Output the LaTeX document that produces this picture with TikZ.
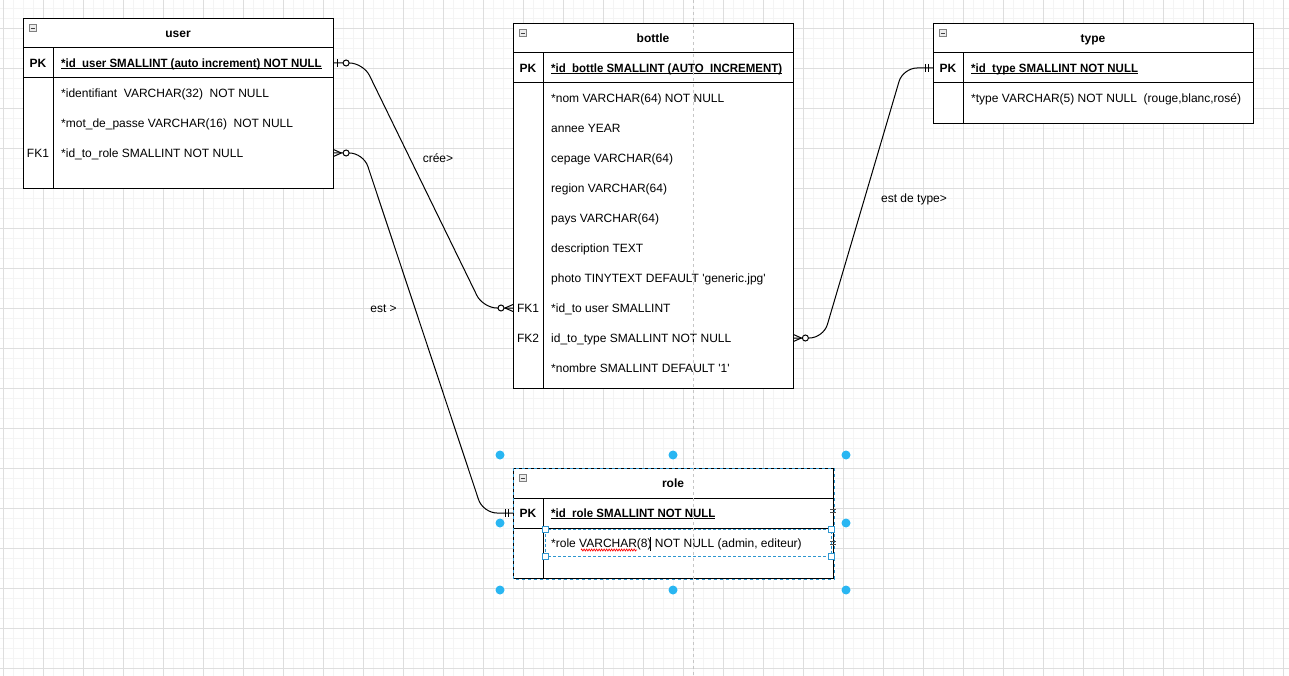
\documentclass[tikz,border=0pt]{standalone}
\usepackage{fontspec}
\setmainfont{Liberation Sans}[Ligatures=TeXOff]
\usetikzlibrary{calc,decorations.pathmorphing}
\definecolor{dotblue}{HTML}{29B6F2}
\definecolor{selline}{HTML}{2E96CF}
\newcommand\erf{\fontsize{12}{14}\selectfont}
\newsavebox\pkbox
\newcommand\undl[1]{\sbox\pkbox{\scalebox{0.955}[1]{#1}}\rlap{\usebox\pkbox}\rule[-2pt]{\wd\pkbox}{1pt}}
\tikzset{
  tbl/.style={draw, line width=1pt, fill=white, anchor=north west, inner sep=0pt},
  rowb/.style={anchor=west, minimum height=30, inner sep=0pt},
  fld/.style={anchor=west, inner sep=0pt, text height=8.6pt, text depth=0pt},
  pkcol/.style={inner sep=0pt, text height=8.6pt, text depth=0pt, font=\erf\bfseries},
  ttl/.style={inner sep=0pt, text height=8.6pt, text depth=0pt, font=\erf\bfseries},
  colicon/.style={draw=gray, fill=gray!15, line width=0.6pt, minimum size=7, inner sep=0pt,
    path picture={\draw[black!75, line width=0.8pt] ([xshift=1.5]path picture bounding box.west) -- ([xshift=-1.5]path picture bounding box.east);}},
  rel/.style={line width=1pt, rounded corners=14},
  lbl/.style={inner sep=0pt, text height=8.6pt, text depth=0pt},
  gridmin/.style={gray!9, line width=0.8pt},
  gridmaj/.style={gray!26, line width=0.8pt}
}
\begin{document}
\begin{tikzpicture}[x=1pt, y=-1pt, font=\erf]
\useasboundingbox (0,0) rectangle (1289,676);
\fill[white] (0,0) rectangle (1289,676);
\foreach \x in {3,13,...,1283} \draw[gridmin] (\x,0) -- (\x,676);
\foreach \y in {8,18,...,668} \draw[gridmin] (0,\y) -- (1289,\y);
\foreach \x in {3,43,...,1283} \draw[gridmaj] (\x,0) -- (\x,676);
\foreach \y in {28,68,...,668} \draw[gridmaj] (0,\y) -- (1289,\y);

\begin{scope}[shift={(23,18)}]
\node[tbl, minimum width=310, minimum height=170] (user) at (0,0) {};
\draw[line width=1pt] (0,30) -- (310,30) (0,60) -- (310,60) (30,30) -- (30,170);
\node[colicon] (user-ic) at (9.5,10) {};
\node[ttl] (user-t) at (155,15) {user};
\node[rowb, minimum width=310] (user-pk) at (0,45) {};
\node[rowb, minimum width=310] (user-fk1) at (0,135) {};
\node[pkcol] (user-k0) at (15,45) {PK};
\node[pkcol, font=\erf] (user-k3) at (15,135) {FK1};
\node[fld, font=\erf\bfseries] (user-f0) at (38,45) {\undl{*id\_user SMALLINT (auto increment) NOT NULL}};
\node[fld] (user-f1) at (38,75) {*identifiant~~VARCHAR(32)~~NOT NULL};
\node[fld] (user-f2) at (38,105) {*mot\_de\_passe VARCHAR(16)~~NOT NULL};
\node[fld] (user-f3) at (38,135) {*id\_to\_role SMALLINT NOT NULL};
\end{scope}

\begin{scope}[shift={(513,23)}]
\node[tbl, minimum width=280, minimum height=365] (bottle) at (0,0) {};
\draw[line width=1pt] (0,30) -- (280,30) (0,60) -- (280,60) (30,30) -- (30,365);
\node[colicon] (bottle-ic) at (9.5,10) {};
\node[ttl] (bottle-t) at (140,15) {bottle};
\node[rowb, minimum width=280] (bottle-fk1) at (0,285) {};
\node[rowb, minimum width=280] (bottle-fk2) at (0,315) {};
\node[pkcol] (bottle-k0) at (15,45) {PK};
\node[pkcol, font=\erf] (bottle-k8) at (15,285) {FK1};
\node[pkcol, font=\erf] (bottle-k9) at (15,315) {FK2};
\node[fld, font=\erf\bfseries] (bottle-pkf) at (38,45) {\undl{*id\_bottle SMALLINT (AUTO\_INCREMENT)}};
\foreach \t [count=\i] in {*nom VARCHAR(64) NOT NULL, annee YEAR, cepage VARCHAR(64),
  region VARCHAR(64), pays VARCHAR(64), description TEXT, photo TINYTEXT DEFAULT 'generic.jpg',
  *id\_to user SMALLINT, id\_to\_type SMALLINT NOT NULL, *nombre SMALLINT DEFAULT '1'}
  \node[fld] (bottle-f\i) at (38,45+30*\i) {\t};
\end{scope}

\begin{scope}[shift={(933,23)}]
\node[tbl, minimum width=320, minimum height=100] (type) at (0,0) {};
\draw[line width=1pt] (0,30) -- (320,30) (0,60) -- (320,60) (30,30) -- (30,100);
\node[colicon] (type-ic) at (9.5,10) {};
\node[ttl] (type-t) at (160,15) {type};
\node[rowb, minimum width=320] (type-pk) at (0,45) {};
\node[pkcol] (type-k0) at (15,45) {PK};
\node[fld, font=\erf\bfseries] (type-f0) at (38,45) {\undl{*id\_type SMALLINT NOT NULL}};
\node[fld] (type-f1) at (38,75) {*type VARCHAR(5) NOT NULL~~(rouge,blanc,rosé)};
\end{scope}

\begin{scope}[shift={(513,468)}]
\node[tbl, minimum width=320, minimum height=110] (role) at (0,0) {};
\draw[line width=1pt] (0,30) -- (320,30) (0,60) -- (320,60) (30,30) -- (30,110);
\draw[selline, line width=1pt, dash pattern=on 3pt off 3pt] (role.north west) rectangle (role.south east);
\node[colicon] (role-ic) at (9.5,10) {};
\node[ttl] (role-t) at (160,15) {role};
\node[rowb, minimum width=320] (role-pk) at (0,45) {};
\node[pkcol] (role-k0) at (15,45) {PK};
\node[fld, font=\erf\bfseries] (role-f0) at (38,45) {\undl{*id\_role SMALLINT NOT NULL}};
\node[fld] (role-f1) at (38,75) {*role VARCHAR(8) NOT NULL (admin, editeur)};
\draw[red, line width=0.7pt, decorate, decoration={zigzag, segment length=2.5, amplitude=1}] (68,82) -- (124,82);
\draw[line width=0.8pt] (137,69) -- (137,83);
\draw[selline, line width=0.8pt, dash pattern=on 3pt off 2pt] (32,61) rectangle (318,88);
\foreach \p in {(32,61),(318,61),(32,88),(318,88)}
  \draw[selline, fill=white, line width=0.8pt] \p ++(-3,-3) rectangle ++(6,6);
\foreach \y in {43,75}
  \draw[black!70, line width=0.7pt] (317,\y-1.5) -- (323,\y-1.5) (317,\y+1.5) -- (323,\y+1.5);
\foreach \p in {(-13,-13),(160,-13),(333,-13),(-13,55),(333,55),(-13,122),(160,122),(333,122)}
  \fill[dotblue] \p circle[radius=4.5];
\end{scope}

\draw[gray!45, line width=0.8pt, dash pattern=on 3pt off 3pt] (693,0) -- (693,676);

\draw[rel] (user-pk.east) -- ++(30,0) -- ($(bottle-fk1.west)+(-30,0)$) -- (bottle-fk1.west);
\draw[rel] (user-fk1.east) -- ++(30,0) -- ($(role-pk.west)+(-30,0)$) -- (role-pk.west);
\draw[rel] (bottle-fk2.east) -- ++(30,0) -- ($(type-pk.west)+(-30,0)$) -- (type-pk.west);

\draw[line width=1pt] (user-pk.east) ++(4,-4) -- ++(0,8);
\draw[line width=1pt, fill=white] (user-pk.east) ++(12.7,0) circle[radius=3];
\draw[line width=1pt] (bottle-fk1.west) ++(-8,0) -- ++(8,-3.5) ++(-8,3.5) -- ++(8,3.5);
\draw[line width=1pt, fill=white] (bottle-fk1.west) ++(-12,0) circle[radius=3];
\draw[line width=1pt] (user-fk1.east) ++(8,0) -- ++(-8,-3.5) ++(8,3.5) -- ++(-8,3.5);
\draw[line width=1pt, fill=white] (user-fk1.east) ++(12.7,0) circle[radius=3];
\draw[line width=1pt] (bottle-fk2.east) ++(8,0) -- ++(-8,-3.5) ++(8,3.5) -- ++(-8,3.5);
\draw[line width=1pt, fill=white] (bottle-fk2.east) ++(12,0) circle[radius=3];
\draw[line width=1pt] (role-pk.west) ++(-8,-4) -- ++(0,8) ++(3.5,-8) -- ++(0,8);
\draw[line width=1pt] (type-pk.west) ++(-7.5,-4) -- ++(0,8) ++(3.2,-8) -- ++(0,8);

\node[lbl] (cree) at (438,158) {crée>};
\node[lbl] (est) at (383.5,308) {est >};
\node[lbl] (estdetype) at (914,198) {est de type>};
\end{tikzpicture}
\end{document}
